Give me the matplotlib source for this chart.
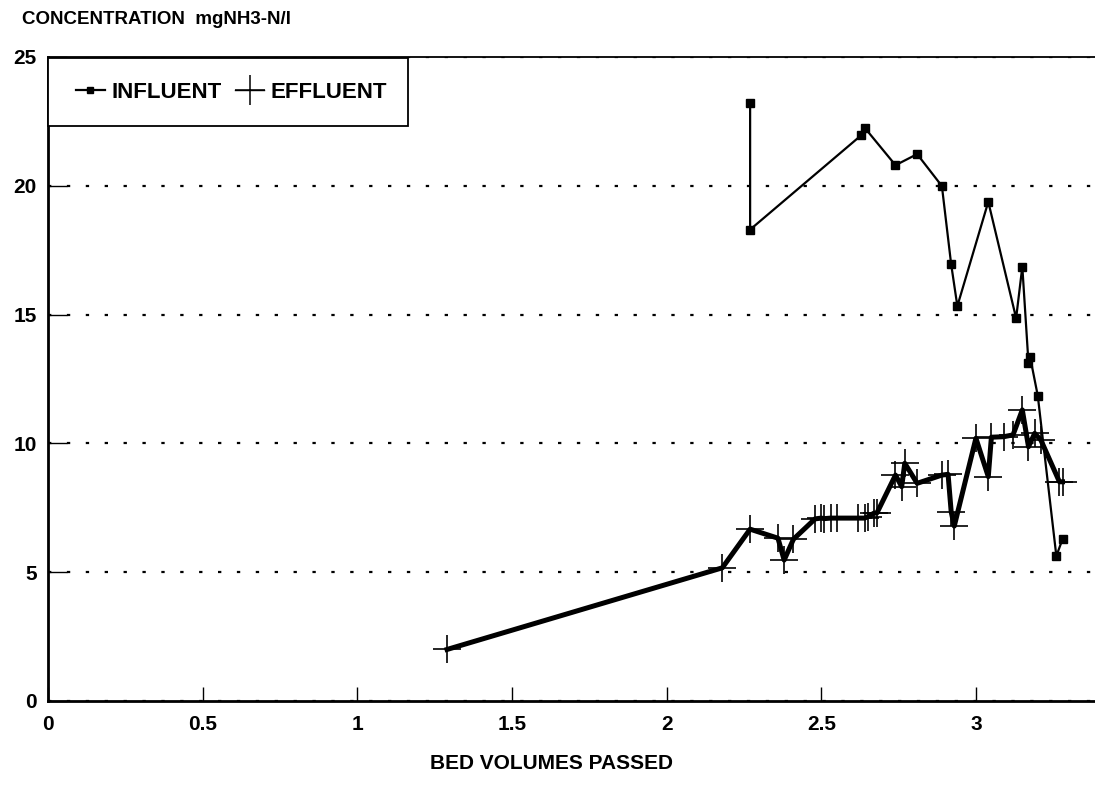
import matplotlib
matplotlib.use('Agg')
import matplotlib.pyplot as plt
from matplotlib.lines import Line2D
from matplotlib.patches import Rectangle

plt.rcParams['font.family'] = ['Liberation Sans', 'DejaVu Sans']
plt.rcParams['font.weight'] = 'bold'

# data
influent_x = [2.27, 2.27, 2.63, 2.64, 2.74, 2.81, 2.89, 2.92, 2.94, 3.04,
              3.13, 3.15, 3.17, 3.175, 3.20, 3.26, 3.28]
influent_y = [23.2, 18.3, 21.97, 22.26, 20.8, 21.23, 19.99, 16.95, 15.33, 19.38,
              14.86, 16.86, 13.11, 13.37, 11.85, 5.63, 6.28]

effluent_x = [1.29, 2.18, 2.27, 2.36, 2.38, 2.41, 2.48, 2.50, 2.51, 2.53,
              2.55, 2.62, 2.64, 2.65, 2.67, 2.68, 2.74, 2.76, 2.77, 2.81,
              2.89, 2.91, 2.92, 2.93, 3.00, 3.04, 3.05, 3.09, 3.12, 3.15,
              3.17, 3.19, 3.21, 3.27, 3.28]
effluent_y = [2.0, 5.17, 6.67, 6.32, 5.47, 6.28, 7.07, 7.1, 7.08, 7.1,
              7.1, 7.1, 7.1, 7.15, 7.29, 7.3, 8.77, 8.32, 9.23, 8.45,
              8.77, 8.8, 7.35, 6.79, 10.2, 8.71, 10.24, 10.26, 10.33, 11.3,
              9.87, 10.39, 10.13, 8.51, 8.51]

x_ticks = [0, 0.5, 1, 1.5, 2, 2.5, 3]
x_tick_labels = ['0', '0.5', '1', '1.5', '2', '2.5', '3']
y_ticks = [0, 5, 10, 15, 20, 25]

W, H = 1095, 785
fig = plt.figure(figsize=(W / 100, H / 100), dpi=100)
ax = fig.add_axes([48 / W, 1 - 701 / H, 1 - 48 / W, (701 - 57) / H])

ax.plot(effluent_x, effluent_y, color='black', lw=3.6, marker='+',
        markersize=20, markeredgewidth=1.2, zorder=3)
ax.plot(influent_x, influent_y, color='black', lw=1.6, marker='s',
        markersize=6, zorder=4)

ax.set_xlim(0, 3.385)
ax.set_ylim(0, 25)
ax.set_xticks(x_ticks)
ax.set_xticklabels(x_tick_labels)
ax.set_yticks(y_ticks)

ax.yaxis.grid(True, color='black', linestyle=(0, (1.5, 7)), lw=1.6)
ax.set_axisbelow(True)

ax.tick_params(axis='x', direction='in', length=10, width=1, pad=10, labelsize=15)
ax.tick_params(axis='y', direction='in', length=14, width=1, pad=8, labelsize=15)

ax.spines['right'].set_visible(False)
ax.spines['left'].set_linewidth(2)
ax.spines['bottom'].set_linewidth(2)
ax.spines['top'].set_linewidth(1.3)

ax.set_xlabel('BED VOLUMES PASSED', fontsize=15, fontweight='bold')
ax.xaxis.set_label_coords((551 - 48) / (W - 48), -0.082)

fig.text(22 / W, 1 - 20 / H, 'CONCENTRATION  mgNH3-N/l', fontsize=13.5,
         fontweight='bold', va='center', ha='left')

# legend box
fig.patches.append(Rectangle((48 / W, 1 - 126 / H), 360 / W, 68 / H,
                             transform=fig.transFigure, fill=True,
                             facecolor='white', edgecolor='black', lw=1.3,
                             zorder=5))
handles = [Line2D([], [], color='black', lw=1.6, marker='s', markersize=5),
           Line2D([], [], color='black', lw=1.0, marker='+', markersize=22,
                  markeredgewidth=1.1)]
fig.legend(handles, ['INFLUENT', 'EFFLUENT'], loc='center left',
           bbox_to_anchor=(56 / W, 1 - 92 / H), ncol=2, frameon=False,
           handlelength=1.3, handletextpad=0.3,
           columnspacing=0.6, prop={'weight': 'bold', 'size': 16})

fig.savefig('out.png', dpi=100)
